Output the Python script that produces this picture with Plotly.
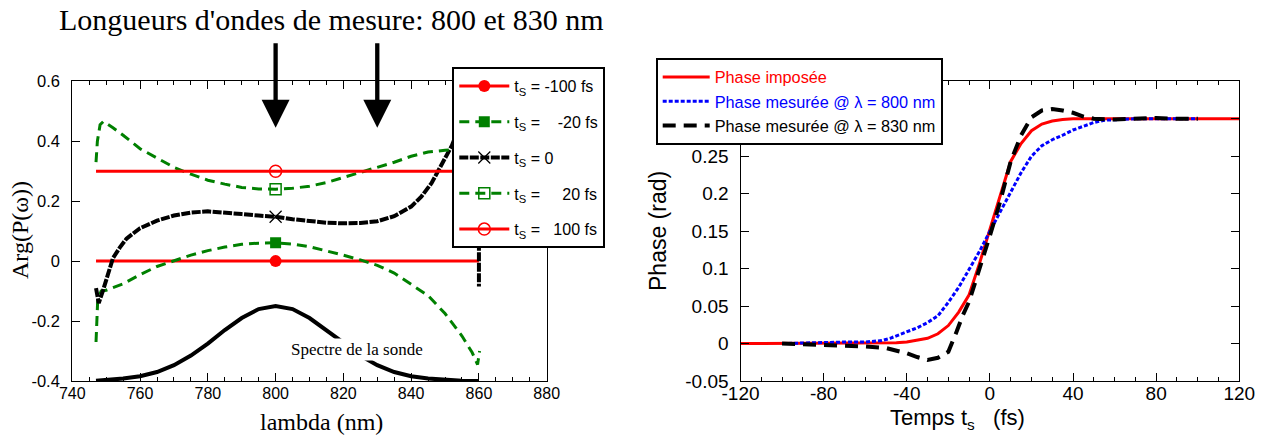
import plotly.graph_objects as go

SANS = 'Liberation Sans, Arial, sans-serif'
SERIF = 'Liberation Serif, Times New Roman, serif'

# ---- left panel: Arg(P(w)) against wavelength
lam_spec = [747, 750, 755, 760, 765, 770, 775, 780, 785, 790, 795, 800,
            805, 810, 815, 820, 825, 830, 835, 840, 845, 850, 855, 860]
spectre = [-0.399, -0.397, -0.392, -0.384, -0.37, -0.347, -0.315, -0.275, -0.23, -0.19, -0.16, -0.15,
           -0.16, -0.19, -0.23, -0.272, -0.315, -0.347, -0.37, -0.384, -0.392, -0.397, -0.399, -0.4]

lam_flat = [747, 800, 860]
arg_m100 = [0, 0, 0]
arg_p100 = [0.3, 0.3, 0.3]

lam_m20 = [747, 747.5, 748.5, 750, 755, 760, 765, 770, 775, 780, 785, 790, 795, 800,
           805, 810, 815, 820, 825, 830, 835, 840, 845, 850, 855, 858, 859.6, 860.2]
arg_m20 = [-0.27, -0.13, -0.10, -0.097, -0.076, -0.045, -0.018, 0.0, 0.02, 0.035, 0.047, 0.056, 0.06, 0.061,
           0.057, 0.048, 0.035, 0.02, 0.004, -0.014, -0.04, -0.078, -0.115, -0.175, -0.25, -0.305, -0.345, -0.30]

lam_0 = [747, 747.8, 749, 750, 751, 752, 754, 756, 760, 765, 770, 775, 780, 785, 790, 795, 800,
         805, 810, 815, 820, 825, 830, 835, 840, 843, 846, 849, 852, 855, 858, 860, 860]
arg_0 = [-0.09, -0.14, -0.1, -0.06, -0.02, 0.01, 0.045, 0.075, 0.11, 0.135, 0.152, 0.162, 0.166, 0.163, 0.157, 0.152, 0.148,
         0.14, 0.133, 0.128, 0.126, 0.127, 0.133, 0.15, 0.182, 0.215, 0.26, 0.32, 0.385, 0.47, 0.58, 0.65, -0.085]

lam_p20 = [747, 747.4, 748.2, 749.2, 752, 755, 760, 765, 770, 775, 780, 785, 790, 795, 800,
           805, 810, 815, 820, 825, 830, 835, 840, 845, 850, 853, 856, 860]
arg_p20 = [0.33, 0.40, 0.455, 0.466, 0.445, 0.42, 0.375, 0.345, 0.313, 0.29, 0.27, 0.257, 0.246, 0.241, 0.24,
           0.243, 0.25, 0.262, 0.279, 0.294, 0.311, 0.33, 0.35, 0.364, 0.37, 0.372, 0.37, 0.36]

lam_mesure = [800, 830]

# ---- right panel: phase against delay
t_imp = [-120, -60, -50, -45, -40, -35, -30, -25, -20, -15, -10, -5, 0, 5, 10, 15, 20, 25, 30, 35, 40, 50, 60, 120]
phase_imp = [0, 0, 0.0005, 0.001, 0.002, 0.004, 0.007, 0.013, 0.024, 0.042, 0.065, 0.107, 0.152, 0.198, 0.243,
             0.267, 0.284, 0.293, 0.297, 0.299, 0.3, 0.3, 0.3, 0.3]

t_800 = [-100, -90, -80, -70, -60, -52, -48, -45, -40, -35, -30, -25, -20, -15, -10, -5, 0, 5, 10, 15, 20,
         25, 30, 35, 40, 45, 50, 55, 60, 70, 80, 90, 100]
phase_800 = [0.0, 0.001, 0.002, 0.002, 0.002, 0.004, 0.007, 0.01, 0.015, 0.021, 0.028, 0.037, 0.055, 0.075, 0.099,
             0.123, 0.15, 0.175, 0.202, 0.228, 0.25, 0.264, 0.272, 0.278, 0.285, 0.29, 0.295, 0.298, 0.299, 0.3,
             0.3, 0.3, 0.3]

t_830 = [-100, -90, -80, -70, -60, -50, -45, -40, -35, -30, -25, -20, -16, -13, -10, -5, 0, 5, 10, 15, 20,
         25, 30, 35, 40, 45, 50, 60, 70, 80, 90, 100]
phase_830 = [0.0, -0.001, -0.001, -0.002, -0.004, -0.006, -0.009, -0.013, -0.018, -0.022, -0.019, -0.011, 0.016,
             0.038, 0.056, 0.098, 0.144, 0.19, 0.243, 0.278, 0.302, 0.311, 0.313, 0.311, 0.308, 0.303, 0.3, 0.299,
             0.3, 0.301, 0.3, 0.3]

# tick labels (plain hyphen minus, as in the original)
left_xticks = [740, 760, 780, 800, 820, 840, 860, 880]
left_yticks = [-0.4, -0.2, 0, 0.2, 0.4, 0.6]
left_ytext = ['-0.4', '-0.2', '0', '0.2', '0.4', '0.6']
right_xticks = [-120, -80, -40, 0, 40, 80, 120]
right_xtext = ['-120', '-80', '-40', '0', '40', '80', '120']
right_yticks = [-0.05, 0, 0.05, 0.1, 0.15, 0.2, 0.25, 0.3, 0.35]
right_ytext = ['-0.05', '0', '0.05', '0.1', '0.15', '0.2', '0.25', '0.3', '0.35']

fig = go.Figure()

# probe spectrum
fig.add_trace(go.Scatter(x=lam_spec, y=spectre, mode='lines', showlegend=False,
                         line=dict(color='black', width=4), xaxis='x', yaxis='y'))

NB = '\u00a0'
left_series = [
    ('t<sub>S</sub> = -100 fs', lam_flat, arg_m100, dict(color='red', width=3),
     dict(symbol='circle', size=12, color='red')),
    ('t<sub>S</sub> = ' + NB * 3 + '-20 fs', lam_m20, arg_m20, dict(color='green', width=3, dash='10px,6px'),
     dict(symbol='square', size=11, color='green')),
    ('t<sub>S</sub> = 0', lam_0, arg_0, dict(color='black', width=4, dash='9px,1.5px'),
     dict(symbol='x-thin-open', size=12, line=dict(color='#777', width=1.2))),
    ('t<sub>S</sub> = ' + NB * 4 + '20 fs', lam_p20, arg_p20, dict(color='green', width=3, dash='10px,6px'),
     dict(symbol='square-open', size=11, color='green', line=dict(width=1.5))),
    ('t<sub>S</sub> = ' + NB * 2 + '100 fs', lam_flat, arg_p100, dict(color='red', width=3),
     dict(symbol='circle-open', size=12, color='red', line=dict(width=1.5))),
]
for i, (name, xs, ys, line, marker) in enumerate(left_series):
    fig.add_trace(go.Scatter(x=xs, y=ys, mode='lines', line=line, showlegend=False,
                             legendgroup=f'g{i}', xaxis='x', yaxis='y'))
    # marker at 800 nm + legend entry
    k = xs.index(800)
    fig.add_trace(go.Scatter(x=[xs[k]], y=[ys[k]], mode='lines+markers', name=name, line=line, marker=marker,
                             legendgroup=f'g{i}', xaxis='x', yaxis='y', legend='legend'))

right_series = [
    ('<span style="color:red">Phase imposée</span>', t_imp, phase_imp, dict(color='red', width=3)),
    ('<span style="color:blue">Phase mesurée @ λ = 800 nm</span>', t_800, phase_800,
     dict(color='blue', width=3, dash='4px,2px')),
    ('Phase mesurée @ λ = 830 nm', t_830, phase_830, dict(color='black', width=4, dash='13px,8px')),
]
for name, xs, ys, line in right_series:
    fig.add_trace(go.Scatter(x=xs, y=ys, mode='lines', name=name, line=line,
                             xaxis='x2', yaxis='y2', legend='legend2'))

W, H = 1263, 440
dom_y = [1 - 381 / H, 1 - 81.3 / H]
axis_common = dict(showgrid=False, zeroline=False, showline=True, linecolor='black', linewidth=1.2,
                   ticks='inside', ticklen=8, tickcolor='black', tickwidth=1.2, automargin=False)

fig.update_layout(
    width=W, height=H, margin=dict(l=0, r=0, t=0, b=0, autoexpand=False),
    plot_bgcolor='white', paper_bgcolor='white',
    font=dict(family=SANS, color='black'),
    xaxis=dict(domain=[72.3 / W, 546.7 / W], range=[740, 880], anchor='y', mirror='ticks',
               tickvals=left_xticks, tickfont=dict(size=16), ticklabelstandoff=-2,
               minor=dict(dtick=5, tick0=740, ticklen=4, ticks='inside', tickcolor='black'), **axis_common),
    yaxis=dict(domain=dom_y, range=[-0.4, 0.6], anchor='x', mirror=True, ticklabelstandoff=8,
               tickvals=left_yticks, ticktext=left_ytext, tickfont=dict(size=16.5), **axis_common),
    xaxis2=dict(domain=[740.5 / W, 1239.3 / W], range=[-120, 120], anchor='y2', mirror='ticks',
                tickvals=right_xticks, ticktext=right_xtext, tickfont=dict(size=19), ticklabelstandoff=-5,
                minor=dict(dtick=10, tick0=-120, ticklen=4, ticks='inside', tickcolor='black'), **axis_common),
    yaxis2=dict(domain=dom_y, range=[-0.05, 0.35], anchor='x2', mirror='ticks', ticklabelstandoff=7,
                tickvals=right_yticks, ticktext=right_ytext, tickfont=dict(size=19), **axis_common),
    legend=dict(x=452.3 / W, y=1 - 67 / H, xanchor='left', yanchor='top', bgcolor='white',
                bordercolor='black', borderwidth=2, font=dict(size=16, family=SANS),
                itemwidth=50, tracegroupgap=12),
    legend2=dict(x=655.7 / W, y=1 - 58 / H, xanchor='left', yanchor='top', bgcolor='white',
                 bordercolor='black', borderwidth=2, font=dict(size=16.3, family=SANS),
                 itemwidth=47, tracegroupgap=0),
)

centered = dict(xref='paper', yref='paper', xanchor='center', yanchor='middle', showarrow=False)
annotations = [
    dict(text="Longueurs d'ondes de mesure: 800 et 830 nm", x=330.7 / W, y=1 - 20 / H,
         font=dict(family=SERIF, size=30), **centered),
    dict(text='lambda (nm)', x=321.7 / W, y=1 - 421.7 / H, font=dict(family=SERIF, size=24), **centered),
    dict(text='Arg(P(ω))', x=20 / W, y=1 - 230 / H, textangle=-90, font=dict(family=SERIF, size=24), **centered),
    dict(text='Temps t<sub>s</sub>' + NB * 3 + '(fs)', x=957 / W, y=1 - 419 / H,
         font=dict(family=SANS, size=22), **centered),
    dict(text='Phase (rad)', x=658 / W, y=1 - 231 / H, textangle=-90, font=dict(family=SANS, size=23), **centered),
    dict(text='Spectre de la sonde', x=824, y=-0.296, xref='x', yref='y', showarrow=False,
         xanchor='center', yanchor='middle', bgcolor='white', font=dict(family=SERIF, size=17)),
]
for lam in lam_mesure:
    annotations.append(dict(text='', x=lam, y=0.445, xref='x', yref='y', ax=0, ay=-86, showarrow=True,
                            arrowhead=2, arrowsize=1.3, arrowwidth=4.3, arrowcolor='black'))
fig.update_layout(annotations=annotations)

fig.write_html('out.html', config={'displayModeBar': False},
               post_script="document.body.style.margin='0';")
